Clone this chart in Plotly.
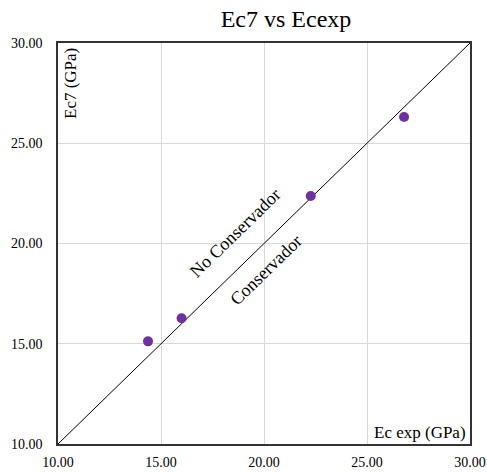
import plotly.graph_objects as go

ec_exp = [14.37, 16.0, 22.27, 26.8]
ec7 = [15.12, 16.27, 22.37, 26.31]
line_x = [10, 30]
line_y = [10, 30]
tick_vals = [10, 15, 20, 25, 30]

font = "Times New Roman"
fig = go.Figure()
fig.add_trace(go.Scatter(x=line_x, y=line_y, mode="lines",
                         line=dict(color="black", width=1), showlegend=False))
fig.add_trace(go.Scatter(x=ec_exp, y=ec7, mode="markers",
                         marker=dict(color="#7030A0", size=10), showlegend=False))

W, H = 487, 472
l, r, t, b = 58, 17, 43, 28

def px(xp, yp):
    return (xp - l) / (W - l - r), 1 - (yp - t) / (H - t - b)

annots = [
    ("No Conservador", 235, 233, -44.2),
    ("Conservador", 266, 270, -44.2),
]
for txt, xp, yp, ang in annots:
    xx, yy = px(xp, yp)
    fig.add_annotation(text=txt, x=xx, y=yy, xref="paper", yref="paper",
                       xanchor="center", yanchor="middle",
                       showarrow=False, textangle=ang,
                       font=dict(family=font, size=18, color="black"))
xx, yy = px(71, 84)
fig.add_annotation(text="Ec7 (GPa)", x=xx, y=yy, xref="paper", yref="paper",
                   xanchor="center", yanchor="middle",
                   showarrow=False, textangle=-90,
                   font=dict(family=font, size=17, color="black"))
xx, yy = px(420, 432)
fig.add_annotation(text="Ec exp (GPa)", x=xx, y=yy, xref="paper", yref="paper",
                   xanchor="center", yanchor="middle",
                   showarrow=False,
                   font=dict(family=font, size=17, color="black"))

axis_common = dict(range=[10, 30], tickvals=tick_vals, tickformat=".2f",
                   showgrid=True, gridcolor="#d9d9d9", gridwidth=1,
                   showline=True, linecolor="#333333", linewidth=1.5, mirror=True,
                   zeroline=False, ticks="", automargin=False,
                   tickfont=dict(family=font, size=14, color="black"))
fig.update_xaxes(**axis_common, ticklabelstandoff=4)
fig.update_yaxes(**axis_common, ticklabelstandoff=11)

fig.update_layout(
    width=W, height=H,
    margin=dict(l=l, r=r, t=t, b=b, autoexpand=False),
    plot_bgcolor="white", paper_bgcolor="white",
    title=dict(text="Ec7 vs Ecexp", x=286 / W, xanchor="center",
               y=1 - 19 / H, yanchor="middle",
               font=dict(family=font, size=24, color="black")),
)
fig.write_html("out.html")
